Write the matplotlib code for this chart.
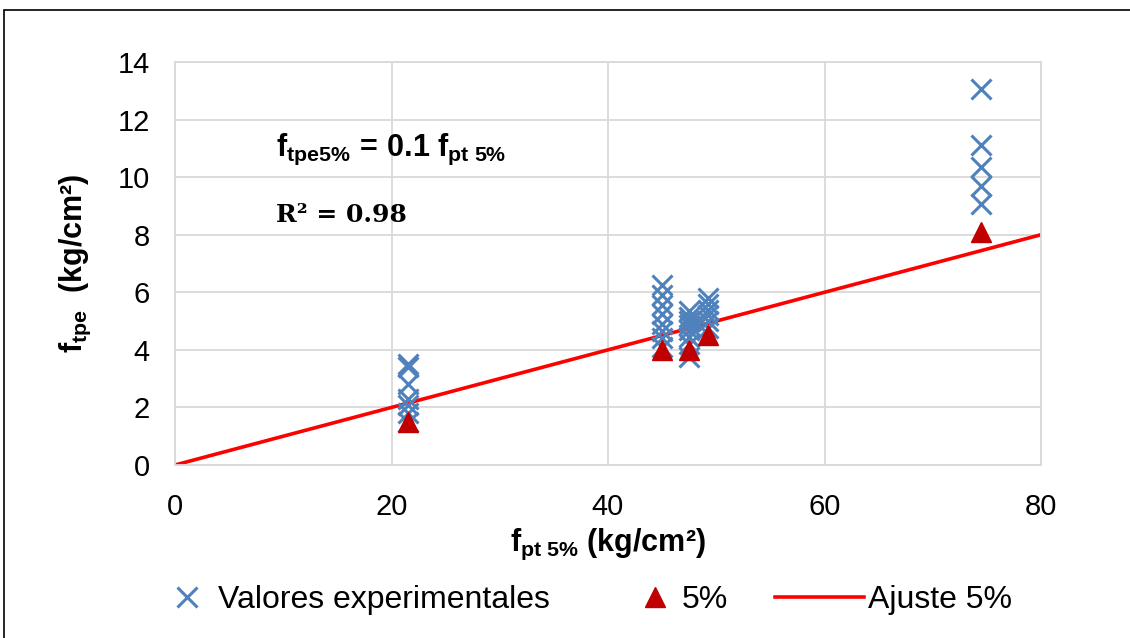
import matplotlib
matplotlib.use("Agg")
import matplotlib.pyplot as plt
from matplotlib.lines import Line2D
from matplotlib.patches import Rectangle

plt.rcParams['font.family'] = ['Liberation Sans', 'DejaVu Sans']
plt.rcParams['mathtext.fontset'] = 'custom'
plt.rcParams['mathtext.rm'] = 'Liberation Sans'
plt.rcParams['mathtext.it'] = 'Liberation Sans'
plt.rcParams['mathtext.bf'] = 'Liberation Sans:bold'

# Experimental values (f_pt 5%, f_tpe)
exp_x = [21.5] * 7 + [45.0] * 8 + [47.5] * 8 + [48.3] + [49.2] * 6 + [74.5] * 5
exp_y = [3.5, 3.4, 2.8, 2.3, 2.1, 1.8, 1.5,
         6.25, 5.9, 5.55, 5.25, 4.9, 4.65, 4.4, 4.1,
         5.35, 5.15, 5.0, 4.85, 4.7, 4.45, 4.2, 3.75,
         4.9,
         5.8, 5.6, 5.4, 5.2, 5.0, 4.75,
         13.05, 11.1, 10.35, 9.7, 9.05]

# 5% characteristic values
p5_x = [21.5, 45.0, 47.5, 49.2, 74.5]
p5_y = [1.5, 4.0, 4.0, 4.5, 8.1]

# Linear fit through the origin
slope = 0.1
fit_x = [0, 80]

xticks = [0, 20, 40, 60, 80]
yticks = [0, 2, 4, 6, 8, 10, 12, 14]

W, H = 1130, 638
fig = plt.figure(figsize=(W / 100, H / 100), dpi=100)
ax = fig.add_axes([175 / W, 1 - 465 / H, (1041 - 175) / W, (465 - 62) / H])

grid_c = '#d9d9d9'
ax.set_xlim(0, 80)
ax.set_ylim(0, 14)
ax.set_xticks(xticks)
ax.set_yticks(yticks)
ax.grid(True, color=grid_c, linewidth=1.3, zorder=0)
ax.set_axisbelow(True)
for s in ax.spines.values():
    s.set_color(grid_c)
    s.set_linewidth(1.3)
ax.tick_params(length=0, labelsize=21)
ax.tick_params(axis='x', pad=20)
ax.tick_params(axis='y', pad=18)

blue = '#4f81bd'
red = '#c00000'

ax.plot(fit_x, [slope * v for v in fit_x], color='#ff0000', lw=2.6,
        zorder=2, solid_capstyle='butt')
ax.plot(exp_x, exp_y, linestyle='none', marker='x', ms=15, mew=2.2,
        color=blue, zorder=3)
ax.plot(p5_x, p5_y, linestyle='none', marker='^', ms=15, color=red,
        mec=red, zorder=4)

ax.set_xlabel(r'$\mathbf{f_{pt\ 5\%}}$ (kg/cm²)', fontsize=22,
              fontweight='bold', labelpad=4)
ax.set_ylabel(r'$\mathbf{f_{tpe}}$  (kg/cm²)', fontsize=22,
              fontweight='bold', labelpad=18)

ax.text(9.3, 10.95, r'$\mathbf{f_{tpe5\%}}$' + r'$\mathbf{\,=\,}$' + '0.1 '
        + r'$\mathbf{f_{pt\ 5\%}}$',
        fontsize=22, fontweight='bold', va='center', ha='left')
ax.text(9.3, 8.68, 'R² = 0.98', fontsize=18, fontweight='bold',
        family='DejaVu Serif', va='center', ha='left')

# Legend row
def px(x, y):
    return x / W, 1 - y / H

common = dict(loc='center left', frameon=False, fontsize=23,
              borderaxespad=0, borderpad=0)
fig.legend([Line2D([], [], ls='none', marker='x', ms=14, mew=2.2, color=blue)],
           ['Valores experimentales'], bbox_to_anchor=px(171, 600),
           handlelength=1.0, handletextpad=0.47, **common)
fig.legend([Line2D([], [], ls='none', marker='^', ms=14, color=red)],
           ['5%'], bbox_to_anchor=px(639, 600),
           handlelength=1.0, handletextpad=0.35, **common)
fig.legend([Line2D([], [], color='#ff0000', lw=2.6)],
           ['Ajuste 5%'], bbox_to_anchor=px(775, 600),
           handlelength=2.8, handletextpad=0.1, **common)

# Outer chart frame
fig.add_artist(Rectangle(px(3.5, 700), 1.2, (700 - 10) / H,
                         transform=fig.transFigure, fill=False,
                         edgecolor='black', lw=1.2))

fig.savefig('out.png', dpi=100)
